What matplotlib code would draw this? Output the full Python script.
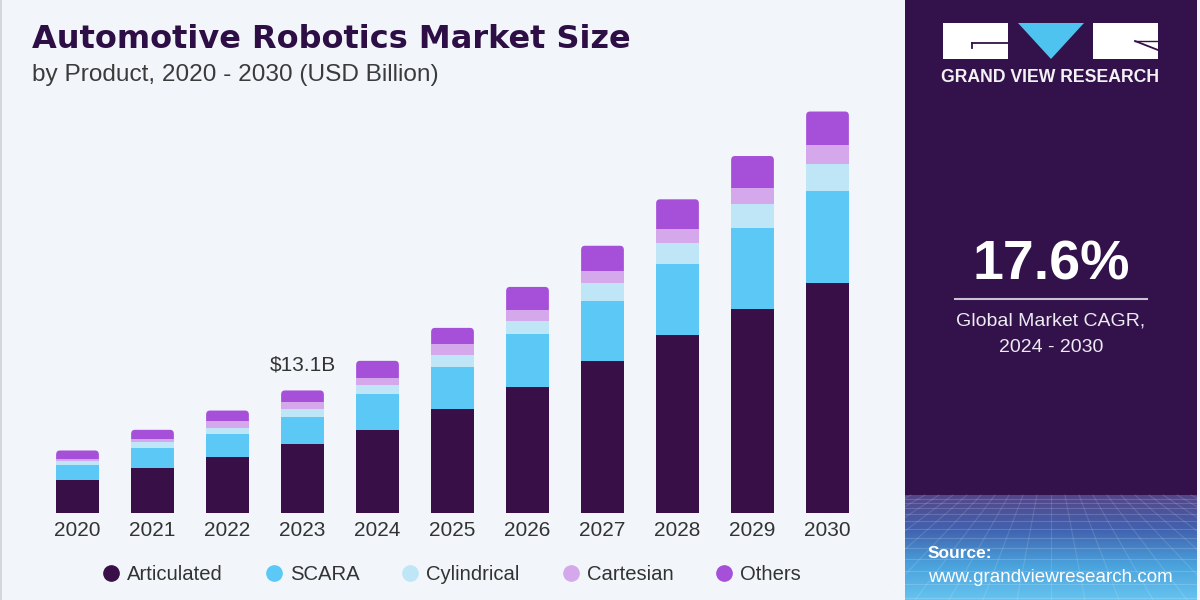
import numpy as np
import matplotlib
matplotlib.use("Agg")
import matplotlib.pyplot as plt
from matplotlib.patches import Rectangle, Polygon, FancyBboxPatch
from matplotlib.lines import Line2D
from matplotlib.colors import LinearSegmentedColormap

# ---------------- data (USD Billion) ----------------
years = ["2020", "2021", "2022", "2023", "2024", "2025", "2026", "2027", "2028", "2029", "2030"]
articulated = [3.51, 4.83, 5.98, 7.35, 8.84, 11.10, 13.49, 16.27, 19.07, 21.86, 24.70]
scara       = [1.58, 2.08, 2.50, 2.90, 3.87, 4.48, 5.63, 6.44, 7.63, 8.67, 9.85]
cylindrical = [0.39, 0.64, 0.61, 0.86, 0.97, 1.32, 1.46, 1.90, 2.22, 2.61, 2.87]
cartesian   = [0.29, 0.36, 0.75, 0.71, 0.78, 1.15, 1.15, 1.35, 1.50, 1.75, 2.07]
others      = [0.89, 0.97, 1.11, 1.29, 1.83, 1.78, 2.50, 2.69, 3.22, 3.40, 3.58]
series_names = ["Articulated", "SCARA", "Cylindrical", "Cartesian", "Others"]
colors = ["#380f47", "#5bc8f5", "#bfe6f7", "#d5a8ec", "#a64fd9"]
annot_year = "2023"
annot_text = "$13.1B"
cagr_text = "17.6%"

W, H = 1200, 600
fig = plt.figure(figsize=(12, 6), dpi=100)
fig.patch.set_facecolor("#f2f6fa")

FONT = "Liberation Sans"

# ---------------- decoration overlay (pixel coords) ----------------
deco = fig.add_axes([0, 0, 1, 1], zorder=0)
deco.axis("off")
deco.patch.set_alpha(0)

# left thin border
deco.add_patch(Rectangle((0, 0), 2, H, color="#d3d7de", lw=0))
# right dark panel
deco.add_patch(Rectangle((905, 0), 292, H, color="#33114a", lw=0))
# gradient source box
grad = np.linspace(0, 1, 200)[:, None]
cmap = LinearSegmentedColormap.from_list("g", ["#54468a", "#4163b0", "#4aa2dc", "#66c3ef"])
deco.imshow(grad, extent=[905, 1197, 600, 495], cmap=cmap, aspect="auto", zorder=1)
# perspective grid lines
hy = [499, 503, 508, 514, 521, 529, 538, 548, 559, 571, 584, 598]
for y in hy:
    deco.plot([905, 1197], [y, y], color="white", alpha=0.16, lw=0.8, zorder=2)
for k in range(-14, 15):
    x0 = 1051 + k * 14
    x1 = 1051 + k * 34
    deco.plot([x0, x1], [495, 600], color="white", alpha=0.13, lw=0.8, zorder=2)
deco.set_xlim(0, W)
deco.set_ylim(H, 0)

# logo
deco.add_patch(Rectangle((943, 23), 65, 36, color="white", lw=0, zorder=3))
deco.add_patch(Rectangle((1093, 23), 65, 36, color="white", lw=0, zorder=3))
deco.add_patch(Polygon([[1018, 23], [1084, 23], [1051, 59]], closed=True, color="#4fc3f0", lw=0, zorder=3))
deco.plot([972, 1008], [43, 43], color="#33114a", lw=1.3, zorder=4)
deco.plot([972, 972], [43, 48], color="#33114a", lw=1.3, zorder=4)
deco.plot([1135, 1158], [41, 50], color="#33114a", lw=1.3, zorder=4)
deco.plot([1135, 1158], [41, 41], color="#33114a", lw=1.0, zorder=4)
deco.text(1050.5, 78, "GRAND VIEW RESEARCH", color="#f2f2f5", fontsize=12.7,
          fontweight="bold", family=FONT, ha="center", va="center", zorder=4)

# CAGR
deco.text(1051, 266, cagr_text, color="white", fontsize=40, fontweight="bold",
          family=FONT, ha="center", va="center", zorder=4)
deco.plot([955, 1147], [299, 299], color="#c9c3d3", lw=1.5, zorder=4)
deco.text(1051, 321, "Global Market CAGR,", color="#ecebf2", fontsize=14,
          family=FONT, ha="center", va="center", zorder=4)
deco.text(1051, 347, "2024 - 2030", color="#ecebf2", fontsize=14,
          family=FONT, ha="center", va="center", zorder=4)

# source
deco.text(928, 554, "Source:", color="white", fontsize=12.5, fontweight="bold",
          family=FONT, ha="left", va="center", zorder=4)
deco.text(928, 577, "www.grandviewresearch.com", color="white", fontsize=13.6,
          family=FONT, ha="left", va="center", zorder=4)

# titles
deco.text(32, 40, "Automotive Robotics Market Size", color="#2e0f45", fontsize=23,
          fontweight="bold", family="DejaVu Sans", ha="left", va="center", zorder=4)
deco.text(32, 75, "by Product, 2020 - 2030 (USD Billion)", color="#3b3b3b", fontsize=17.6,
          family=FONT, ha="left", va="center", zorder=4)

# ---------------- main chart ----------------
base_px = 512.5
top_px = 100
px_per_unit = 9.31
ax = fig.add_axes([40 / W, (H - base_px) / H, 825 / W, (base_px - top_px) / H], zorder=2)
ax.set_facecolor("none")
ax.set_xlim(-0.5, len(years) - 0.5)
ax.set_ylim(0, (base_px - top_px) / px_per_unit)
for s in ax.spines.values():
    s.set_visible(False)

x = np.arange(len(years))
bw = 0.57
data = [articulated, scara, cylindrical, cartesian, others]
bottom = np.zeros(len(years))
for i, (vals, c) in enumerate(zip(data, colors)):
    vals = np.array(vals)
    if i < 4:
        ax.bar(x, vals, bw, bottom=bottom, color=c, lw=0, zorder=3)
    else:
        # rounded top segment; its lower part is hidden under the Cartesian segment
        for xi, b, v in zip(x, bottom, vals):
            lower = b - 1.0
            p = FancyBboxPatch((xi - bw / 2, lower), bw, v + (b - lower),
                               boxstyle="round,pad=0,rounding_size=0.05",
                               mutation_aspect=9.0, color=c, lw=0, zorder=2)
            ax.add_patch(p)
    bottom = bottom + vals

ax.set_xticks(x)
ax.set_xticklabels(years, fontsize=15, color="#333333", family=FONT)
ax.tick_params(axis="x", length=0, pad=6)
ax.set_yticks([])

ia = years.index(annot_year)
ax.annotate(annot_text, (x[ia], bottom[ia]), xytext=(0, 18), textcoords="offset points",
            ha="center", va="center", fontsize=15, color="#333333", family=FONT)

handles = [Line2D([], [], marker="o", ls="", markersize=11, markerfacecolor=c,
                  markeredgecolor=c) for c in colors]
fig.legend(handles, series_names, loc="center", bbox_to_anchor=(451 / W, 1 - 575 / H),
           ncol=5, frameon=False, handletextpad=0.3, columnspacing=2.0,
           handlelength=1.0, prop={"family": FONT, "size": 14.6},
           labelcolor="#333333")

fig.savefig("out.png", dpi=100, facecolor=fig.get_facecolor())
